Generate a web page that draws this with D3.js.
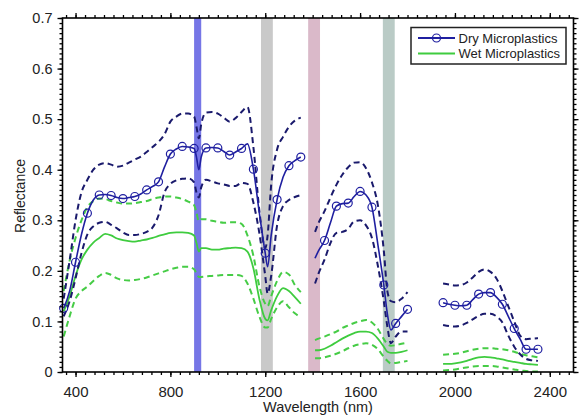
<!DOCTYPE html>
<html>
<head>
<meta charset="utf-8">
<script src="https://cdn.jsdelivr.net/npm/d3@7"></script>
<style>
  html, body { margin: 0; padding: 0; background: #fff; }
  svg { display: block; font-family: "Liberation Sans", Arial, sans-serif; }
</style>
</head>
<body>
<svg id="chart" width="579" height="415"></svg>
<script>
// Wavelength grid (nm); null marks the gaps between the three spectral windows
const wavelengths = [
  350,375,400,425,450,475,500,525,550,575,600,625,650,675,700,725,750,775,800,825,850,875,900,910,920,930,950,975,1000,1025,1050,1075,1100,1125,1150,1175,1200,1210,1225,1250,1275,1300,1325,1350,
  null,
  1410,1425,1450,1475,1500,1525,1550,1575,1600,1625,1650,1675,1700,1715,1730,1750,1775,1800,
  null,
  1950,1975,2000,2025,2050,2075,2100,2125,2150,2175,2200,2225,2250,2275,2300,2325,2350
];

// Dry microplastics: mean reflectance and +/- one standard deviation
const dryMean = [
  0.126,0.160,0.217,0.272,0.314,0.340,0.350,0.351,0.349,0.345,0.343,0.345,0.347,0.352,0.360,0.367,0.376,0.405,0.431,0.441,0.446,0.445,0.442,0.425,0.400,0.425,0.443,0.444,0.443,0.436,0.429,0.435,0.442,0.451,0.401,0.315,0.235,0.208,0.270,0.341,0.385,0.408,0.418,0.425,
  null,
  0.225,0.240,0.260,0.295,0.328,0.333,0.334,0.347,0.357,0.350,0.326,0.252,0.172,0.115,0.083,0.096,0.110,0.124,
  null,
  0.137,0.134,0.132,0.131,0.132,0.143,0.154,0.157,0.157,0.148,0.134,0.110,0.086,0.065,0.045,0.045,0.045
];
const dryUpper = [
  0.145,0.220,0.300,0.355,0.380,0.400,0.410,0.413,0.410,0.406,0.408,0.414,0.420,0.426,0.435,0.445,0.455,0.470,0.495,0.505,0.511,0.511,0.505,0.485,0.462,0.490,0.513,0.514,0.511,0.503,0.495,0.502,0.514,0.524,0.445,0.320,0.245,0.270,0.370,0.440,0.465,0.485,0.497,0.503,
  null,
  0.277,0.295,0.318,0.345,0.370,0.390,0.405,0.414,0.415,0.403,0.375,0.330,0.240,0.160,0.140,0.138,0.145,0.158,
  null,
  0.175,0.173,0.171,0.172,0.177,0.187,0.198,0.203,0.198,0.185,0.160,0.130,0.100,0.072,0.065,0.066,0.067
];
const dryLower = [
  0.110,0.140,0.185,0.235,0.272,0.288,0.295,0.297,0.291,0.284,0.276,0.271,0.271,0.273,0.277,0.286,0.310,0.355,0.372,0.379,0.382,0.383,0.375,0.355,0.345,0.365,0.380,0.377,0.373,0.371,0.368,0.368,0.374,0.372,0.335,0.275,0.190,0.155,0.190,0.290,0.328,0.340,0.346,0.350,
  null,
  0.175,0.195,0.222,0.255,0.275,0.277,0.283,0.298,0.300,0.290,0.265,0.210,0.140,0.090,0.057,0.070,0.080,0.080,
  null,
  0.093,0.091,0.090,0.092,0.097,0.104,0.111,0.115,0.115,0.110,0.098,0.072,0.050,0.035,0.026,0.023,0.022
];

// Wet microplastics: mean reflectance and +/- one standard deviation
const wetMean = [
  0.120,0.150,0.190,0.222,0.242,0.256,0.265,0.273,0.270,0.264,0.261,0.259,0.258,0.260,0.262,0.265,0.269,0.272,0.275,0.276,0.276,0.275,0.270,0.255,0.238,0.245,0.245,0.242,0.242,0.244,0.245,0.246,0.245,0.238,0.205,0.145,0.105,0.102,0.122,0.150,0.166,0.160,0.148,0.135,
  null,
  0.043,0.043,0.046,0.052,0.059,0.066,0.072,0.077,0.080,0.080,0.077,0.066,0.050,0.040,0.038,0.038,0.040,0.043,
  null,
  0.016,0.016,0.017,0.019,0.022,0.026,0.029,0.030,0.029,0.027,0.025,0.022,0.020,0.018,0.016,0.015,0.014
];
const wetUpper = [
  0.160,0.220,0.265,0.300,0.326,0.338,0.343,0.342,0.338,0.335,0.333,0.333,0.334,0.336,0.338,0.342,0.345,0.347,0.347,0.345,0.342,0.337,0.330,0.315,0.298,0.302,0.302,0.299,0.297,0.295,0.296,0.296,0.293,0.270,0.230,0.170,0.135,0.130,0.150,0.180,0.198,0.193,0.172,0.158,
  null,
  0.063,0.066,0.070,0.075,0.080,0.087,0.092,0.097,0.100,0.103,0.098,0.085,0.065,0.055,0.052,0.053,0.056,0.058,
  null,
  0.034,0.035,0.036,0.038,0.041,0.044,0.046,0.047,0.047,0.046,0.045,0.043,0.040,0.036,0.033,0.031,0.029
];
const wetLower = [
  0.070,0.110,0.145,0.160,0.169,0.180,0.190,0.196,0.192,0.185,0.182,0.181,0.182,0.184,0.187,0.191,0.195,0.199,0.203,0.206,0.208,0.208,0.203,0.195,0.188,0.188,0.189,0.190,0.191,0.192,0.192,0.192,0.190,0.175,0.145,0.110,0.088,0.088,0.105,0.128,0.140,0.128,0.116,0.108,
  null,
  0.027,0.027,0.029,0.032,0.036,0.041,0.047,0.052,0.055,0.057,0.054,0.045,0.030,0.022,0.017,0.018,0.020,0.022,
  null,
  0.003,0.004,0.005,0.007,0.009,0.011,0.012,0.012,0.012,0.011,0.009,0.007,0.005,0.003,0.002,0.001,0.001
];

// Highlighted absorption bands (nm)
const bandStart = [900, 1182, 1381, 1696];
const bandEnd   = [930, 1232, 1431, 1746];

// Axis ticks
const xTickValues = [400, 800, 1200, 1600, 2000, 2400];
const yTickValues = [0, 0.1, 0.2, 0.3, 0.4, 0.5, 0.6, 0.7];
const legendLabels = ["Dry Microplastics", "Wet Microplastics"];

// ---- styling ----
const bandFill = ["#7676e6", "#c9c9c9", "#dab9c9", "#bacbc6"];
const dryColor = "#1f1fa0", dryDash = "#1a1a6c";
const wetColor = "#3fcc3f", wetDash = "#46cc46";

const svg = d3.select("#chart");
const plot = { left: 62.5, right: 573.5, top: 18, bottom: 372 };

const x = d3.scaleLinear().domain([345, 2500]).range([plot.left, plot.right]);
const y = d3.scaleLinear().domain([0, 0.7]).range([plot.bottom, plot.top]);

// bands
svg.append("g").selectAll("rect")
  .data(bandStart.map((s, i) => ({ s, e: bandEnd[i], c: bandFill[i] })))
  .join("rect")
  .attr("x", d => x(d.s))
  .attr("width", d => x(d.e) - x(d.s))
  .attr("y", plot.top)
  .attr("height", plot.bottom - plot.top)
  .attr("fill", d => d.c);

const toPoints = arr => wavelengths.map((w, i) => ({ w, v: arr[i] }));
const line = d3.line()
  .defined(d => d.w != null && d.v != null)
  .x(d => x(d.w))
  .y(d => y(d.v))
  .curve(d3.curveMonotoneX);

const series = [
  { data: wetUpper, color: wetDash, dash: "6,4", width: 2 },
  { data: wetLower, color: wetDash, dash: "6,4", width: 2 },
  { data: wetMean,  color: wetColor, dash: null, width: 1.8 },
  { data: dryUpper, color: dryDash, dash: "6,4", width: 2 },
  { data: dryLower, color: dryDash, dash: "6,4", width: 2 },
  { data: dryMean,  color: dryColor, dash: null, width: 1.6 }
];

const lines = svg.append("g");
series.forEach(s => {
  lines.append("path")
    .attr("d", line(toPoints(s.data)))
    .attr("fill", "none")
    .attr("stroke", s.color)
    .attr("stroke-width", s.width)
    .attr("stroke-dasharray", s.dash)
    .attr("stroke-linejoin", "round");
});

// circle markers on the dry mean every 50 nm
lines.append("g").selectAll("circle")
  .data(toPoints(dryMean).filter(d => d.w != null && d.v != null && d.w % 50 === 0))
  .join("circle")
  .attr("cx", d => x(d.w))
  .attr("cy", d => y(d.v))
  .attr("r", 4)
  .attr("fill", "none")
  .attr("stroke", dryColor)
  .attr("stroke-width", 1.2);

// ---- axes ----
const xMinor = d3.range(360, 2500, 40);
const yMinor = d3.range(0, 0.7001, 0.01);

function styleAxis(g) {
  g.select(".domain").remove();
  g.selectAll(".tick line").attr("stroke", "#000").attr("stroke-width", 1.3);
  g.selectAll(".tick text").attr("fill", "#222");
}

// bottom
svg.append("g").attr("transform", `translate(0,${plot.bottom})`)
  .call(d3.axisBottom(x).tickValues(xMinor).tickSize(3).tickFormat(""))
  .call(styleAxis);
svg.append("g").attr("transform", `translate(0,${plot.bottom})`)
  .call(d3.axisBottom(x).tickValues(xTickValues).tickSize(5).tickPadding(9).tickFormat(d3.format("d")))
  .call(styleAxis)
  .selectAll("text").style("font-size", "15px");
// top
svg.append("g").attr("transform", `translate(0,${plot.top})`)
  .call(d3.axisTop(x).tickValues(xMinor).tickSize(3).tickFormat(""))
  .call(styleAxis);
svg.append("g").attr("transform", `translate(0,${plot.top})`)
  .call(d3.axisTop(x).tickValues(xTickValues).tickSize(5).tickFormat(""))
  .call(styleAxis);
// left
svg.append("g").attr("transform", `translate(${plot.left},0)`)
  .call(d3.axisLeft(y).tickValues(yMinor).tickSize(3).tickFormat(""))
  .call(styleAxis);
svg.append("g").attr("transform", `translate(${plot.left},0)`)
  .call(d3.axisLeft(y).tickValues(yTickValues).tickSize(5).tickPadding(5)
    .tickFormat(d => d === 0 ? "0" : d3.format(".1f")(d)))
  .call(styleAxis)
  .selectAll("text").style("font-size", "14.5px");
// right
svg.append("g").attr("transform", `translate(${plot.right},0)`)
  .call(d3.axisRight(y).tickValues(yMinor).tickSize(3).tickFormat(""))
  .call(styleAxis);
svg.append("g").attr("transform", `translate(${plot.right},0)`)
  .call(d3.axisRight(y).tickValues(yTickValues).tickSize(5).tickFormat(""))
  .call(styleAxis);

// frame
svg.append("rect")
  .attr("x", plot.left).attr("y", plot.top)
  .attr("width", plot.right - plot.left).attr("height", plot.bottom - plot.top)
  .attr("fill", "none").attr("stroke", "#000").attr("stroke-width", 1.6);

// axis titles
svg.append("text")
  .attr("x", (plot.left + plot.right) / 2 + 0).attr("y", 412)
  .attr("text-anchor", "middle").style("font-size", "14.5px").attr("fill", "#222")
  .text("Wavelength (nm)");
svg.append("text")
  .attr("transform", "translate(25,196) rotate(-90)")
  .attr("text-anchor", "middle").style("font-size", "14px").attr("fill", "#222")
  .text("Reflectance");

// legend
const lg = svg.append("g");
lg.append("rect")
  .attr("x", 411).attr("y", 27.5).attr("width", 155).attr("height", 36.5)
  .attr("fill", "#fff").attr("stroke", "#222").attr("stroke-width", 1.5);
const legendStyle = [{ color: dryColor, marker: true }, { color: wetColor, marker: false }];
legendLabels.forEach((label, i) => {
  const ly = 38 + i * 15.5;
  lg.append("line").attr("x1", 418).attr("x2", 455).attr("y1", ly).attr("y2", ly)
    .attr("stroke", legendStyle[i].color).attr("stroke-width", 1.8);
  if (legendStyle[i].marker) {
    lg.append("circle").attr("cx", 436.5).attr("cy", ly).attr("r", 4)
      .attr("fill", "none").attr("stroke", legendStyle[i].color).attr("stroke-width", 1.2);
  }
  lg.append("text").attr("x", 458.5).attr("y", ly + 4.7)
    .style("font-size", "13px").attr("fill", "#222").text(label);
});
</script>
</body>
</html>
